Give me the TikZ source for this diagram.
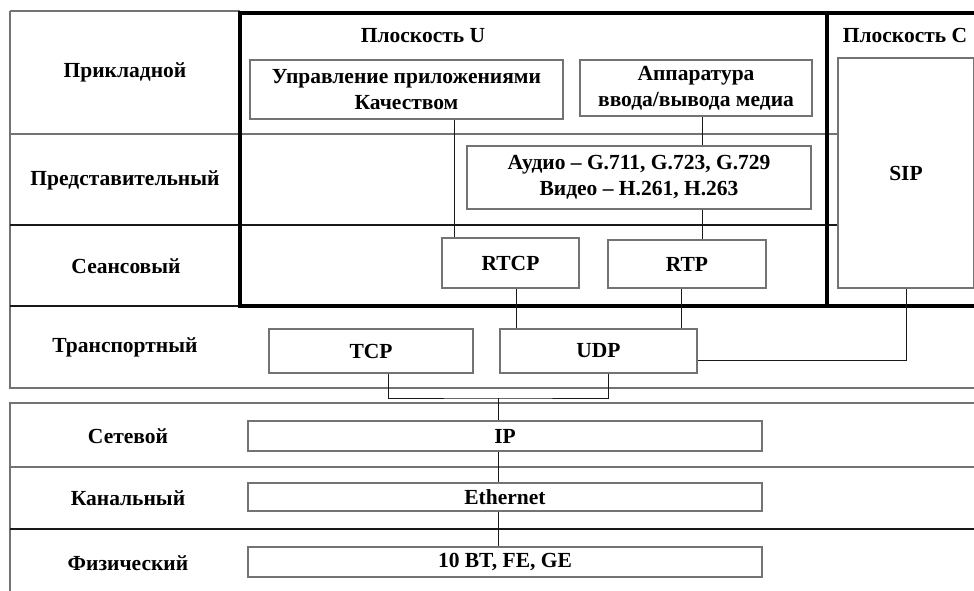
\documentclass[tikz,border=0pt]{standalone}
\usepackage{fontspec}
\setmainfont{Liberation Serif}
\begin{document}
\begin{tikzpicture}[x=1pt,y=-1pt,
  font=\fontsize{21.5}{26}\selectfont\bfseries,
  grayline/.style={draw=black!55,line width=1.2pt},
  darkline/.style={draw=black!90,line width=1.2pt},
  thick frame/.style={draw=black,line width=4pt},
  box/.style={draw=black!55,line width=1.2pt,inner sep=0pt,align=center},
  lbl/.style={inner sep=0pt,align=center},
  conn/.style={draw=black!90,line width=1pt}]
\useasboundingbox (0,0) rectangle (974,591);
\clip (0,0) rectangle (974,591);
% row frames
\draw[grayline] (10,11) -- (240,11);
\draw[grayline] (10,11) -- (10,388) -- (980,388);
\draw[grayline] (10,134) -- (838,134);
\draw[darkline] (10,225) -- (838,225);
\draw[darkline] (10,306) -- (240,306);
\draw[grayline] (10,591) -- (10,403) -- (980,403);
\draw[grayline] (10,467) -- (980,467);
\draw[darkline] (10,529) -- (980,529);
% planes
\draw[thick frame] (240,13) rectangle (827,306);
\draw[thick frame] (827,13) -- (990,13);
\draw[thick frame] (827,306) -- (990,306);
% layer labels
\node[lbl] (l1) at (125,72) {Прикладной};
\node[lbl] (l2) at (125,180) {Представительный};
\node[lbl] (l3) at (126,266) {Сеансовый};
\node[lbl] (l4) at (125,347) {Транспортный};
\node[lbl] (l5) at (128,436) {Сетевой};
\node[lbl] (l6) at (128,498) {Канальный};
\node[lbl] (l7) at (128,563) {Физический};
\node[lbl] (pu) at (423,36) {Плоскость U};
\node[lbl] (pc) at (905,35) {Плоскость C};
% boxes
\node[box,minimum width=313pt,minimum height=59pt] (upr) at (406.5,89.5) {Управление приложениями\\Качеством};
\node[box,minimum width=232pt,minimum height=56pt] (app) at (696,88) {Аппаратура\\ввода/вывода медиа};
\node[box,minimum width=344pt,minimum height=63pt] (codec) at (639,177.5) {Аудио – G.711, G.723, G.729\\Видео – H.261, H.263};
\node[box,minimum width=137pt,minimum height=50pt] (rtcp) at (510.5,263) {RTCP};
\node[box,minimum width=158pt,minimum height=48pt] (rtp) at (687,264) {RTP};
\node[box,minimum width=136pt,minimum height=230pt] (sip) at (906,173) {SIP};
\node[box,minimum width=204pt,minimum height=44pt] (tcp) at (371,351) {TCP};
\node[box,minimum width=197pt,minimum height=44pt] (udp) at (598.5,351) {UDP};
\node[box,minimum width=514pt,minimum height=30pt] (ip) at (505,436) {IP};
\node[box,minimum width=514pt,minimum height=28pt] (eth) at (505,497) {Ethernet};
\node[box,minimum width=514pt,minimum height=30pt] (phy) at (505,562) {10 BT, FE, GE};
% connectors
\coordinate (j) at (498,398);
\draw[conn] (upr.south -| 454,0) -- (rtcp.north -| 454,0);
\draw[conn] (app.south -| 702,0) -- (codec.north -| 702,0);
\draw[conn] (codec.south -| 702,0) -- (rtp.north -| 702,0);
\draw[conn] (rtcp.south -| 516,0) -- (udp.north -| 516,0);
\draw[conn] (rtp.south -| 681,0) -- (udp.north -| 681,0);
\draw[conn] (sip.south) |- (udp.east |- 0,360);
\draw[conn] (tcp.south -| 388,0) |- (j) -| (udp.south -| 608,0);
\draw[conn] (j) -- (ip.north -| j);
\draw[conn] (ip.south -| j) -- (eth.north -| j);
\draw[conn] (eth.south -| j) -- (phy.north -| j);
\end{tikzpicture}
\end{document}
